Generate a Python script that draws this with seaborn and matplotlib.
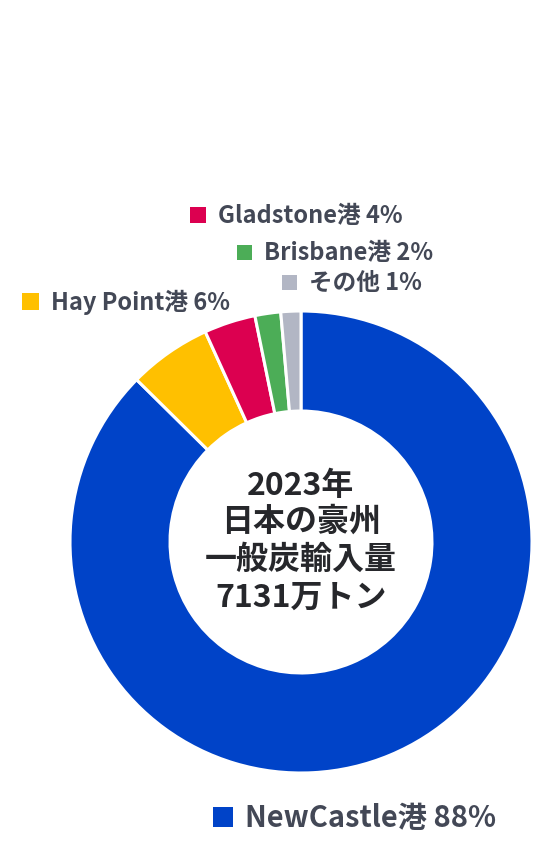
import matplotlib
matplotlib.use("Agg")
import matplotlib.pyplot as plt
import seaborn as sns
from matplotlib.patches import Rectangle

sns.set_theme(style="white")
plt.rcParams['font.family'] = ['Noto Sans CJK JP', 'DejaVu Sans']

ports = ["NewCastle港", "Hay Point港", "Gladstone港", "Brisbane港", "その他"]
shares = [87.4, 5.8, 3.6, 1.8, 1.4]
label_pct = ["88%", "6%", "4%", "2%", "1%"]
colors = ["#0043C8", "#FFC000", "#DC0050", "#4CAD57", "#B2B6C4"]
center_lines = ["2023年", "日本の豪州", "一般炭輸入量", "7131万トン"]

W, H = 556, 853
fig = plt.figure(figsize=(W / 100, H / 100), dpi=100)
fig.patch.set_facecolor("white")

cx, cy, R = 301, 543, 231
ax = fig.add_axes([(cx - R) / W, (H - cy - R) / H, 2 * R / W, 2 * R / H])
ax.pie(shares, colors=colors, startangle=90, counterclock=False,
       wedgeprops=dict(width=0.433, edgecolor="white", linewidth=2.2))
ax.set_xlim(-1, 1)
ax.set_ylim(-1, 1)
ax.set_aspect("equal")
ax.axis("off")

text_color = "#434856"
ys = [486, 522, 560, 598]
for line, y in zip(center_lines, ys):
    fig.text(cx / W, 1 - y / H, line, ha="center", va="center",
             fontsize=23, fontweight="bold", color="#26272B")

# label positions (pixel): square left, center y, size, fontsize
label_specs = {
    0: (213, 818, 20, 21),
    1: (22, 302, 17, 17),
    2: (190, 216, 16, 17),
    3: (237, 253, 15, 17),
    4: (282, 283, 15, 17),
}
for i, (sx, sy, s, fs) in label_specs.items():
    fig.patches.append(Rectangle((sx / W, 1 - (sy + s / 2) / H), s / W, s / H,
                                 transform=fig.transFigure, facecolor=colors[i],
                                 edgecolor="none"))
    txt = f"{ports[i]} {label_pct[i]}"
    fig.text((sx + s + 12) / W, 1 - sy / H, txt, ha="left", va="center",
             fontsize=fs, fontweight="bold", color=text_color)

fig.savefig("out.png", dpi=100, facecolor="white")
